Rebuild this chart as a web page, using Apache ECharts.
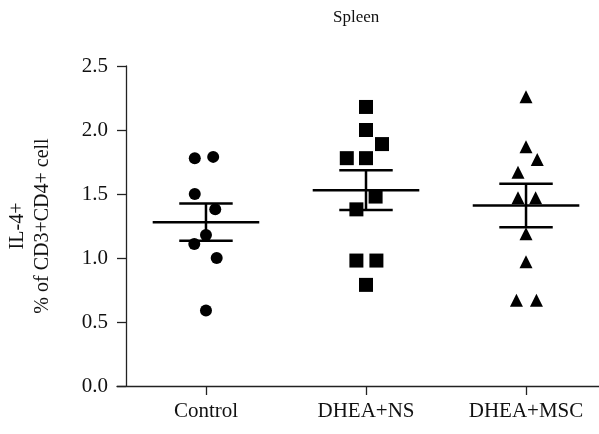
<!DOCTYPE html>
<html>
<head>
<meta charset="utf-8">
<script src="https://cdn.jsdelivr.net/npm/echarts@6/dist/echarts.min.js"></script>
<style>html,body{margin:0;padding:0;background:#fff}#c{width:599px;height:434px}</style>
</head>
<body>
<div id="c"></div>
<script>
var categories = ['Control', 'DHEA+NS', 'DHEA+MSC'];
var controlValues = [1.78, 1.79, 1.50, 1.38, 1.18, 1.11, 1.00, 0.59];
var controlJitter = [-0.07, 0.045, -0.07, 0.058, 0, -0.073, 0.067, 0];
var nsValues = [2.18, 2.00, 1.89, 1.78, 1.78, 1.48, 1.38, 0.98, 0.98, 0.79];
var nsJitter = [0, 0, 0.10, -0.12, 0, 0.06, -0.06, -0.06, 0.065, 0];
var mscValues = [2.26, 1.87, 1.77, 1.67, 1.47, 1.47, 1.19, 0.97, 0.67, 0.67];
var mscJitter = [0, 0, 0.07, -0.05, -0.05, 0.06, 0, 0, -0.06, 0.065];
var groupMeans = [1.28, 1.53, 1.41];
var groupSem = [0.145, 0.155, 0.17];
var yTicks = [0, 0.5, 1.0, 1.5, 2.0, 2.5];

function pts(idx, vals, jit) {
  return vals.map(function (v, i) { return [idx + jit[i], v]; });
}
var errData = groupMeans.map(function (m, i) { return [i, m, groupSem[i]]; });

var FONT = '"Liberation Serif", "DejaVu Serif", serif';
var chart = echarts.init(document.getElementById('c'));
chart.setOption({
  backgroundColor: '#fff',
  animation: false,
  title: {
    text: 'Spleen', left: 328, top: 4,
    textStyle: { fontFamily: FONT, fontSize: 17, fontWeight: 'normal', color: '#111' }
  },
  grid: { left: 117, right: 0, top: 66, bottom: 48, containLabel: false, outerBoundsMode: 'none' },
  xAxis: {
    type: 'value', min: -0.556, max: 2.456,
    splitLine: { show: false },
    axisLine: { show: true, onZero: false, lineStyle: { color: '#222', width: 1.3 } },
    axisTick: { show: true, length: 9, customValues: [0, 1, 2], lineStyle: { color: '#222', width: 1.3 } },
    axisLabel: {
      customValues: [0, 1, 2], margin: 15,
      formatter: function (v) { return categories[Math.round(v)]; },
      fontFamily: FONT, fontSize: 21, color: '#111'
    }
  },
  yAxis: {
    type: 'value', min: 0, max: 2.5, interval: 0.5, offset: -9,
    name: 'IL-4+\n% of CD3+CD4+ cell', nameLocation: 'middle', nameGap: 71, nameRotate: 90,
    nameTextStyle: { fontFamily: FONT, fontSize: 20, color: '#111', lineHeight: 25 },
    splitLine: { show: false },
    axisLine: { show: true, onZero: false, lineStyle: { color: '#222', width: 1.3 } },
    axisTick: { show: true, length: 9, lineStyle: { color: '#222', width: 1.3 } },
    axisLabel: {
      margin: 18, fontFamily: FONT, fontSize: 21, color: '#111',
      formatter: function (v) { return v.toFixed(1); }
    }
  },
  series: [
    {
      type: 'custom', data: errData, z: 3,
      renderItem: function (params, api) {
        var x = api.value(0), m = api.value(1), s = api.value(2);
        var c = api.coord([x, m]);
        var lw = api.size([0.333, 0])[0];
        var cw = api.size([0.167, 0])[0];
        var top = api.coord([x, m + s])[1];
        var bot = api.coord([x, m - s])[1];
        var st = { stroke: '#000', lineWidth: 2.5 };
        return {
          type: 'group', children: [
            { type: 'line', shape: { x1: c[0] - lw, y1: c[1], x2: c[0] + lw, y2: c[1] }, style: st },
            { type: 'line', shape: { x1: c[0] - cw, y1: top, x2: c[0] + cw, y2: top }, style: st },
            { type: 'line', shape: { x1: c[0] - cw, y1: bot, x2: c[0] + cw, y2: bot }, style: st },
            { type: 'line', shape: { x1: c[0], y1: top, x2: c[0], y2: bot }, style: st }
          ]
        };
      }
    },
    { type: 'scatter', data: pts(0, controlValues, controlJitter), symbol: 'circle', symbolSize: 12, itemStyle: { color: '#000', opacity: 1 }, z: 4 },
    { type: 'scatter', data: pts(1, nsValues, nsJitter), symbol: 'rect', symbolSize: 14, itemStyle: { color: '#000', opacity: 1 }, z: 4 },
    { type: 'scatter', data: pts(2, mscValues, mscJitter), symbol: 'triangle', symbolSize: 13, itemStyle: { color: '#000', opacity: 1 }, z: 4 }
  ]
});
</script>
</body>
</html>
